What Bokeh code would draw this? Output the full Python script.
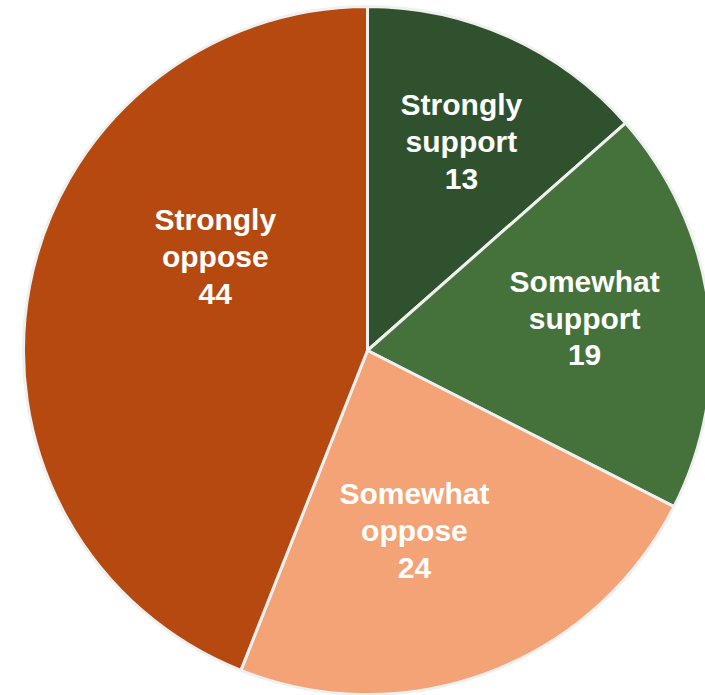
import math
from bokeh.plotting import figure
from bokeh.models import ColumnDataSource, Range1d
from bokeh.core.properties import value
from bokeh.embed import file_html
from bokeh.resources import INLINE

categories = ["Strongly support", "Somewhat support", "Somewhat oppose", "Strongly oppose"]
# slice sizes (labels show rounded numbers)
values = [13.5, 19.0, 23.5, 44.0]
label_lines = [["Strongly", "support", "13"], ["Somewhat", "support", "19"],
               ["Somewhat", "oppose", "24"], ["Strongly", "oppose", "44"]]
colors = ["#2F512E", "#44723A", "#F3A375", "#B5490F"]

# label placement (fraction of radius, angle in degrees)
label_r = [0.666, 0.638, 0.541, 0.520]
label_deg = [65.8, 8.4, -75.4, 148.3]

# geometry (pixels map 1:1 to data units)
W, H = 705, 695
CX, CY = 367, 350  # centre in screen coordinates
R = 344

p = figure(width=W, height=H, output_backend="svg", toolbar_location=None,
           x_range=Range1d(-CX, W - CX), y_range=Range1d(CY - H, CY),
           min_border=0)
p.axis.visible = False
p.grid.visible = False
p.outline_line_color = None
p.background_fill_color = "white"

total = sum(values)
starts, ends = [], []
acc = 0.0
for v in values:
    a0 = math.pi / 2 - 2 * math.pi * acc / total
    acc += v
    a1 = math.pi / 2 - 2 * math.pi * acc / total
    starts.append(a1)
    ends.append(a0)

src = ColumnDataSource(dict(start=starts, end=ends, color=colors, cat=categories, val=values))
p.wedge(x=0, y=0, radius=R, start_angle="start", end_angle="end", fill_color="color",
        line_color="#F0F0F0", line_width=3, source=src)

xs, ys, txt = [], [], []
for i in range(len(values)):
    a = math.radians(label_deg[i])
    lx = label_r[i] * R * math.cos(a)
    ly = label_r[i] * R * math.sin(a)
    for j, t in enumerate(label_lines[i]):
        xs.append(lx)
        ys.append(ly - (j - 1) * 37)
        txt.append(t)

p.text(x=xs, y=ys, text=txt, text_color="white", text_font=value("Liberation Sans"),
       text_font_style="bold", text_font_size="30px", text_align="center",
       text_baseline="middle")

open("out.html", "w").write(file_html(p, INLINE))
